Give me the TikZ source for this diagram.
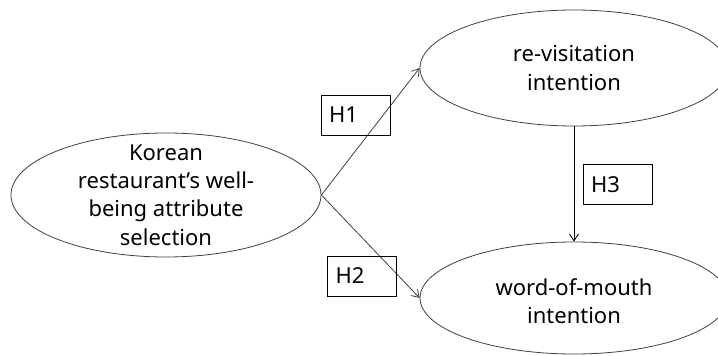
\documentclass[tikz,border=0pt]{standalone}
\usepackage{fontspec}
\setmainfont{Noto Sans}
\usetikzlibrary{shapes.geometric,arrows.meta}
\begin{document}
\begin{tikzpicture}[x=1pt,y=1pt,every node/.style={font=\fontsize{22}{28.3}\selectfont},
  construct/.style={ellipse,draw=black!75,line width=0.8pt,inner sep=0pt},
  hypbox/.style={draw,line width=0.8pt,text width=53pt,align=left,inner xsep=8pt,minimum height=40pt,inner ysep=0pt},
  path/.style={draw=black!75,line width=0.8pt,-{Straight Barb[length=7pt,width=9pt]}}]
\useasboundingbox (0,0) rectangle (718,356);
% Constructs
\node[construct,minimum width=310pt,minimum height=124pt] (sel) at (166,161) {};
\node[align=center] (seltxt) at (sel.center) {Korean\\restaurant’s well-\\being attribute\\selection};
\node[construct,minimum width=308pt,minimum height=116pt] (rev) at (574,288) {};
\node[align=center] (revtxt) at (rev.center) {re-visitation\\intention};
\node[construct,minimum width=308pt,minimum height=112pt] (wom) at (574,58) {};
\node[align=center] (womtxt) at ([yshift=-3pt]wom.center) {word-of-mouth\\intention};
% Paths
\draw[path] (sel.east) -- (rev.west);
\draw[path] (sel.east) -- (wom.west);
\draw[path,draw=black] (rev.south) -- (wom.north);
% Hypotheses
\node[hypbox] (h1) at (355.5,241) {H1};
\node[hypbox] (h2) at (362,80) {H2};
\node[hypbox] (h3) at (617.5,171.5) {H3};
\end{tikzpicture}
\end{document}
